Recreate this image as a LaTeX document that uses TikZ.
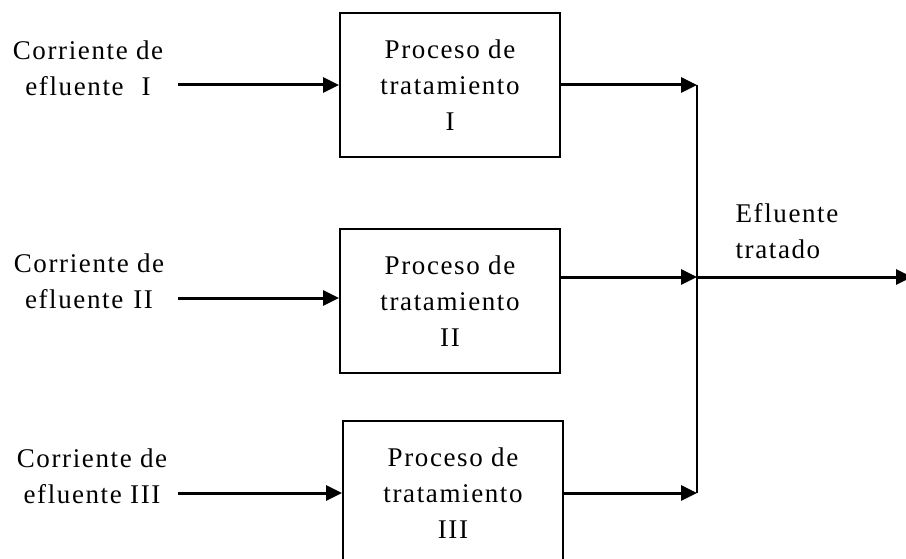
\documentclass[tikz,border=0pt]{standalone}
\usepackage{fontspec}
\setmainfont[LetterSpace=6]{Liberation Serif}
\usetikzlibrary{arrows.meta, positioning}
\tikzset{procbox/.style = {draw, line width=2pt, minimum width=220pt, minimum height=144pt,
		align=center, font=\fontsize{27}{36}\selectfont},
	srclabel/.style = {align=center, font=\fontsize{27}{36}\selectfont},
	flow/.style = {line width=3pt, -{Triangle[length=16pt,width=15pt]}}
}

\begin{document}
\begin{tikzpicture}[x=1pt,y=-1pt]
\clip (0,0) rectangle (906,559);
\node[procbox] (proc1) at (450,85) {Proceso de\\tratamiento\\I};
\node[procbox] (proc2) at (450,301) {Proceso de\\tratamiento\\II};
\node[procbox] (proc3) at (453,493) {Proceso de\\tratamiento\\III};
%entradas
\node[srclabel] (src1) at (88,68) {Corriente de\\efluente\hspace{18pt}I};
\node[srclabel] (src2) at (89,281) {Corriente de\\efluente\hspace{10pt}II};
\node[srclabel] (src3) at (92,476) {Corriente de\\efluente III};
\coordinate (in1) at (178,85);
\coordinate (in2) at (178,298);
\coordinate (in3) at (178,493);
\draw[flow] (in1) -- (proc1.west |- in1);
\draw[flow] (in2) -- (proc2.west |- in2);
\draw[flow] (in3) -- (proc3.west |- in3);
%salidas
\coordinate (join) at (697,277);
\coordinate (out) at (912,277);
\draw[flow] (proc1.east) -- (join |- proc1.east);
\draw[flow] (proc2.east |- join) -- (join);
\draw[flow] (proc3.east) -- (join |- proc3.east);
\draw[line width=2.4pt] (join |- proc1.east) -- (join |- proc3.east);
\draw[flow] (join) -- (out);
\node[srclabel, align=left, anchor=west] (efl) at (732,231) {Efluente\\tratado};
\end{tikzpicture}
\end{document}
